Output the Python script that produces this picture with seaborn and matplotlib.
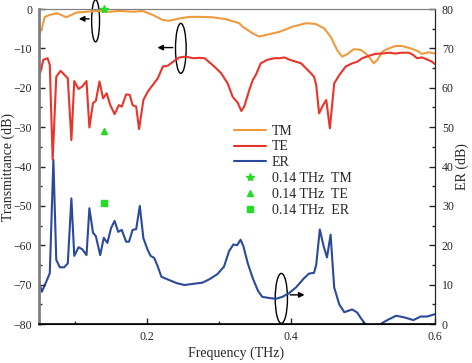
import matplotlib
matplotlib.use("Agg")
import matplotlib.pyplot as plt
from matplotlib.patches import Ellipse
from matplotlib.ticker import MultipleLocator
import seaborn as sns
import pandas as pd

# TM transmittance (dB), left axis
tm_f = [0.050, 0.054, 0.058, 0.065, 0.075, 0.081, 0.088, 0.095, 0.102, 0.116, 0.130,
        0.148, 0.162, 0.181, 0.194, 0.208, 0.222, 0.231, 0.245, 0.259, 0.273, 0.291,
        0.310, 0.328, 0.333, 0.347, 0.356, 0.365, 0.384, 0.402, 0.421, 0.434, 0.446,
        0.455, 0.464, 0.471, 0.478, 0.487, 0.497, 0.504, 0.511, 0.515, 0.520, 0.527,
        0.536, 0.545, 0.554, 0.566, 0.575, 0.582, 0.591, 0.600]
tm_db = [-6.6, -4.9, -2.0, -1.5, -1.1, -1.5, -2.1, -1.5, -0.9, -0.7, -0.5,
         -0.7, -0.5, -0.7, -0.5, -1.5, -2.8, -3.0, -2.4, -2.0, -2.0, -2.1,
         -2.6, -3.6, -4.5, -6.2, -7.0, -6.6, -5.8, -4.5, -3.6, -3.8, -4.9,
         -7.0, -10.4, -12.1, -11.5, -10.2, -10.4, -11.3, -12.8, -13.8, -12.9, -10.8,
         -10.0, -9.4, -9.4, -10.0, -10.6, -11.4, -11.0, -11.3]

# TE transmittance (dB), left axis
te_f = [0.050, 0.056, 0.062, 0.065, 0.069, 0.074, 0.080, 0.090, 0.095, 0.099, 0.105,
        0.110, 0.116, 0.120, 0.125, 0.129, 0.134, 0.139, 0.144, 0.149, 0.155, 0.161,
        0.165, 0.171, 0.176, 0.180, 0.185, 0.189, 0.195, 0.201, 0.208, 0.215, 0.222,
        0.229, 0.236, 0.245, 0.254, 0.264, 0.273, 0.280, 0.291, 0.303, 0.312, 0.319,
        0.326, 0.331, 0.335, 0.342, 0.347, 0.351, 0.358, 0.367, 0.377, 0.384, 0.391,
        0.397, 0.407, 0.414, 0.421, 0.427, 0.432, 0.435, 0.439, 0.444, 0.449, 0.454,
        0.460, 0.467, 0.476, 0.485, 0.492, 0.499, 0.508, 0.517, 0.527, 0.536, 0.545,
        0.554, 0.564, 0.570, 0.575, 0.582, 0.589, 0.596, 0.600]
te_db = [-17.5, -12.9, -12.5, -14.2, -38.3, -17.2, -15.7, -17.6, -33.3, -18.3, -20.3,
         -19.7, -18.3, -30.1, -23.9, -23.3, -18.4, -22.7, -21.4, -24.4, -26.7, -24.4,
         -24.8, -21.7, -21.8, -24.4, -24.8, -30.5, -23.1, -21.0, -19.3, -17.6, -14.6,
         -14.4, -13.4, -12.3, -12.1, -12.5, -12.4, -12.5, -14.2, -16.3, -18.9, -22.3,
         -23.8, -25.9, -24.8, -20.6, -18.0, -16.8, -13.8, -12.9, -12.5, -12.5, -12.3,
         -12.8, -13.4, -13.8, -15.1, -16.2, -17.2, -19.3, -26.5, -24.6, -23.1, -30.3,
         -18.9, -16.8, -14.6, -13.8, -13.4, -12.5, -11.9, -11.4, -11.3, -11.1, -11.3,
         -11.1, -11.1, -11.7, -12.5, -12.3, -12.8, -13.4, -14.0]

# extinction ratio (dB), right axis
er_f = [0.050, 0.054, 0.060, 0.065, 0.070, 0.074, 0.079, 0.085, 0.090, 0.095, 0.099,
        0.105, 0.110, 0.116, 0.120, 0.125, 0.129, 0.135, 0.140, 0.145, 0.150, 0.155,
        0.160, 0.165, 0.171, 0.175, 0.180, 0.185, 0.190, 0.195, 0.201, 0.205, 0.210,
        0.215, 0.220, 0.229, 0.241, 0.252, 0.264, 0.277, 0.287, 0.298, 0.307, 0.314,
        0.320, 0.325, 0.330, 0.334, 0.340, 0.347, 0.354, 0.360, 0.370, 0.379, 0.388,
        0.397, 0.407, 0.418, 0.425, 0.432, 0.435, 0.440, 0.445, 0.450, 0.455, 0.460,
        0.467, 0.474, 0.485, 0.492, 0.497, 0.504, 0.511, 0.519, 0.527, 0.536, 0.546,
        0.557, 0.570, 0.580, 0.589, 0.600]
er_db = [10.7, 8.2, 10.7, 12.9, 41.7, 16.3, 14.4, 14.4, 15.4, 31.9, 17.3,
         19.5, 19.0, 17.5, 29.4, 23.2, 22.3, 17.5, 21.9, 20.6, 24.3, 26.2,
         23.4, 23.9, 20.9, 20.9, 23.9, 24.1, 30.0, 21.8, 18.8, 17.3, 16.8,
         14.6, 12.0, 11.3, 10.4, 9.9, 10.2, 10.5, 11.4, 12.7, 14.6, 18.5,
         20.2, 20.0, 21.4, 19.7, 15.4, 11.6, 8.5, 6.9, 6.6, 6.4, 6.9,
         7.8, 9.3, 11.6, 12.8, 13.0, 15.0, 24.0, 20.0, 16.9, 22.7, 9.3,
         5.0, 3.0, 3.7, 2.9, 1.5, -0.2, -1.5, -1.0, 0.3, 1.2, 2.1,
         1.7, 1.0, 1.9, 1.9, 2.5]

# values at 0.14 THz
pt_f = 0.14
pt_tm, pt_te, pt_er = 0.0, -31.0, -49.3

c_tm, c_te, c_er, c_pt = "#EE9B40", "#E8352B", "#2C4A9C", "#22DD22"

sns.set_style("white")
plt.rcParams["font.family"] = ["Liberation Serif", "DejaVu Serif"]

fig = plt.figure(figsize=(4.72, 3.63), dpi=100)
ax = fig.add_axes([0.0826, 0.1074, 0.839, 0.8678])
ax2 = ax.twinx()

sns.lineplot(data=pd.DataFrame({"f": tm_f, "v": tm_db}), x="f", y="v", ax=ax,
             color=c_tm, lw=1.5, label="TM")
sns.lineplot(data=pd.DataFrame({"f": te_f, "v": te_db}), x="f", y="v", ax=ax,
             color=c_te, lw=1.5, label="TE")
sns.lineplot(data=pd.DataFrame({"f": er_f, "v": er_db}), x="f", y="v", ax=ax2,
             color=c_er, lw=1.5, legend=False)
er_proxy, = ax.plot([], [], color=c_er, lw=1.5, label="ER")

ax.plot([pt_f], [pt_tm], ls="none", marker="*", ms=6, color=c_pt,
        label="0.14 THz  TM", clip_on=False, zorder=5)
ax.plot([pt_f], [pt_te], ls="none", marker="^", ms=5, color=c_pt,
        label="0.14 THz  TE")
ax.plot([pt_f], [pt_er], ls="none", marker="s", ms=4.5, color=c_pt,
        label="0.14 THz  ER")

ax.set_xlim(0.05, 0.6)
ax.set_ylim(-80, 0)
ax2.set_ylim(0, 80)

ax.xaxis.set_major_locator(MultipleLocator(0.2))
ax.xaxis.set_minor_locator(MultipleLocator(0.1))
ax.yaxis.set_major_locator(MultipleLocator(10))
ax.yaxis.set_minor_locator(MultipleLocator(5))
ax2.yaxis.set_major_locator(MultipleLocator(10))
ax2.yaxis.set_minor_locator(MultipleLocator(5))
ax.set_xticks([0.2, 0.4, 0.6])
ax.set_xticklabels(["0.2", "0.4", "0.6"])

for a in (ax, ax2):
    a.tick_params(which="major", direction="in", length=4, width=1, labelsize=8.5, pad=5)
    a.tick_params(which="minor", direction="in", length=2.5, width=1)
ax.tick_params(axis="y", which="both", left=True, right=False)
ax.tick_params(axis="x", which="both", bottom=True, top=False)
ax2.tick_params(axis="y", which="both", right=True, left=False)

ax.spines["left"].set_color("#808080")
ax.spines["left"].set_linewidth(2)
ax.spines["bottom"].set_color("black")
ax.spines["bottom"].set_linewidth(1.2)
ax.spines["top"].set_color("#808080")
ax2.spines["top"].set_color("#808080")
ax2.spines["right"].set_color("black")
ax2.spines["left"].set_visible(False)

ax.set_xlabel("Frequency (THz)", fontsize=10)
ax.set_ylabel("Transmittance (dB)", fontsize=10)
ax2.set_ylabel("ER (dB)", fontsize=10)
ax.xaxis.set_label_coords(0.497, -0.072)
ax.yaxis.set_label_coords(-0.06, 0.5)
ax2.yaxis.set_label_coords(1.052, 0.5)

# ellipses with arrows
ax.add_patch(Ellipse((0.1286, -3.0), 0.011, 10.7, fill=False, ec="black", lw=1, clip_on=False))
ax.annotate("", xy=(0.1015, -2.5), xytext=(0.1235, -2.5),
            arrowprops=dict(arrowstyle="-|>", color="black", lw=1, mutation_scale=8))
ax.add_patch(Ellipse((0.247, -10.0), 0.0148, 12.7, fill=False, ec="black", lw=1))
ax.annotate("", xy=(0.2106, -9.8), xytext=(0.2396, -9.8),
            arrowprops=dict(arrowstyle="-|>", color="black", lw=1, mutation_scale=8))
ax2.add_patch(Ellipse((0.3866, 6.5), 0.017, 12.7, fill=False, ec="black", lw=1))
ax2.annotate("", xy=(0.4227, 7.4), xytext=(0.395, 7.4),
             arrowprops=dict(arrowstyle="-|>", color="black", lw=1, mutation_scale=8))

ax.legend(loc="upper left", bbox_to_anchor=(0.475, 0.655), frameon=False, fontsize=10,
          handlelength=2.3, handletextpad=0.4, labelspacing=0.2, borderpad=0)
ax2.set_zorder(ax.get_zorder() - 1)
ax.patch.set_visible(False)
ax2.patch.set_visible(True)

fig.savefig("out.png", dpi=100)
